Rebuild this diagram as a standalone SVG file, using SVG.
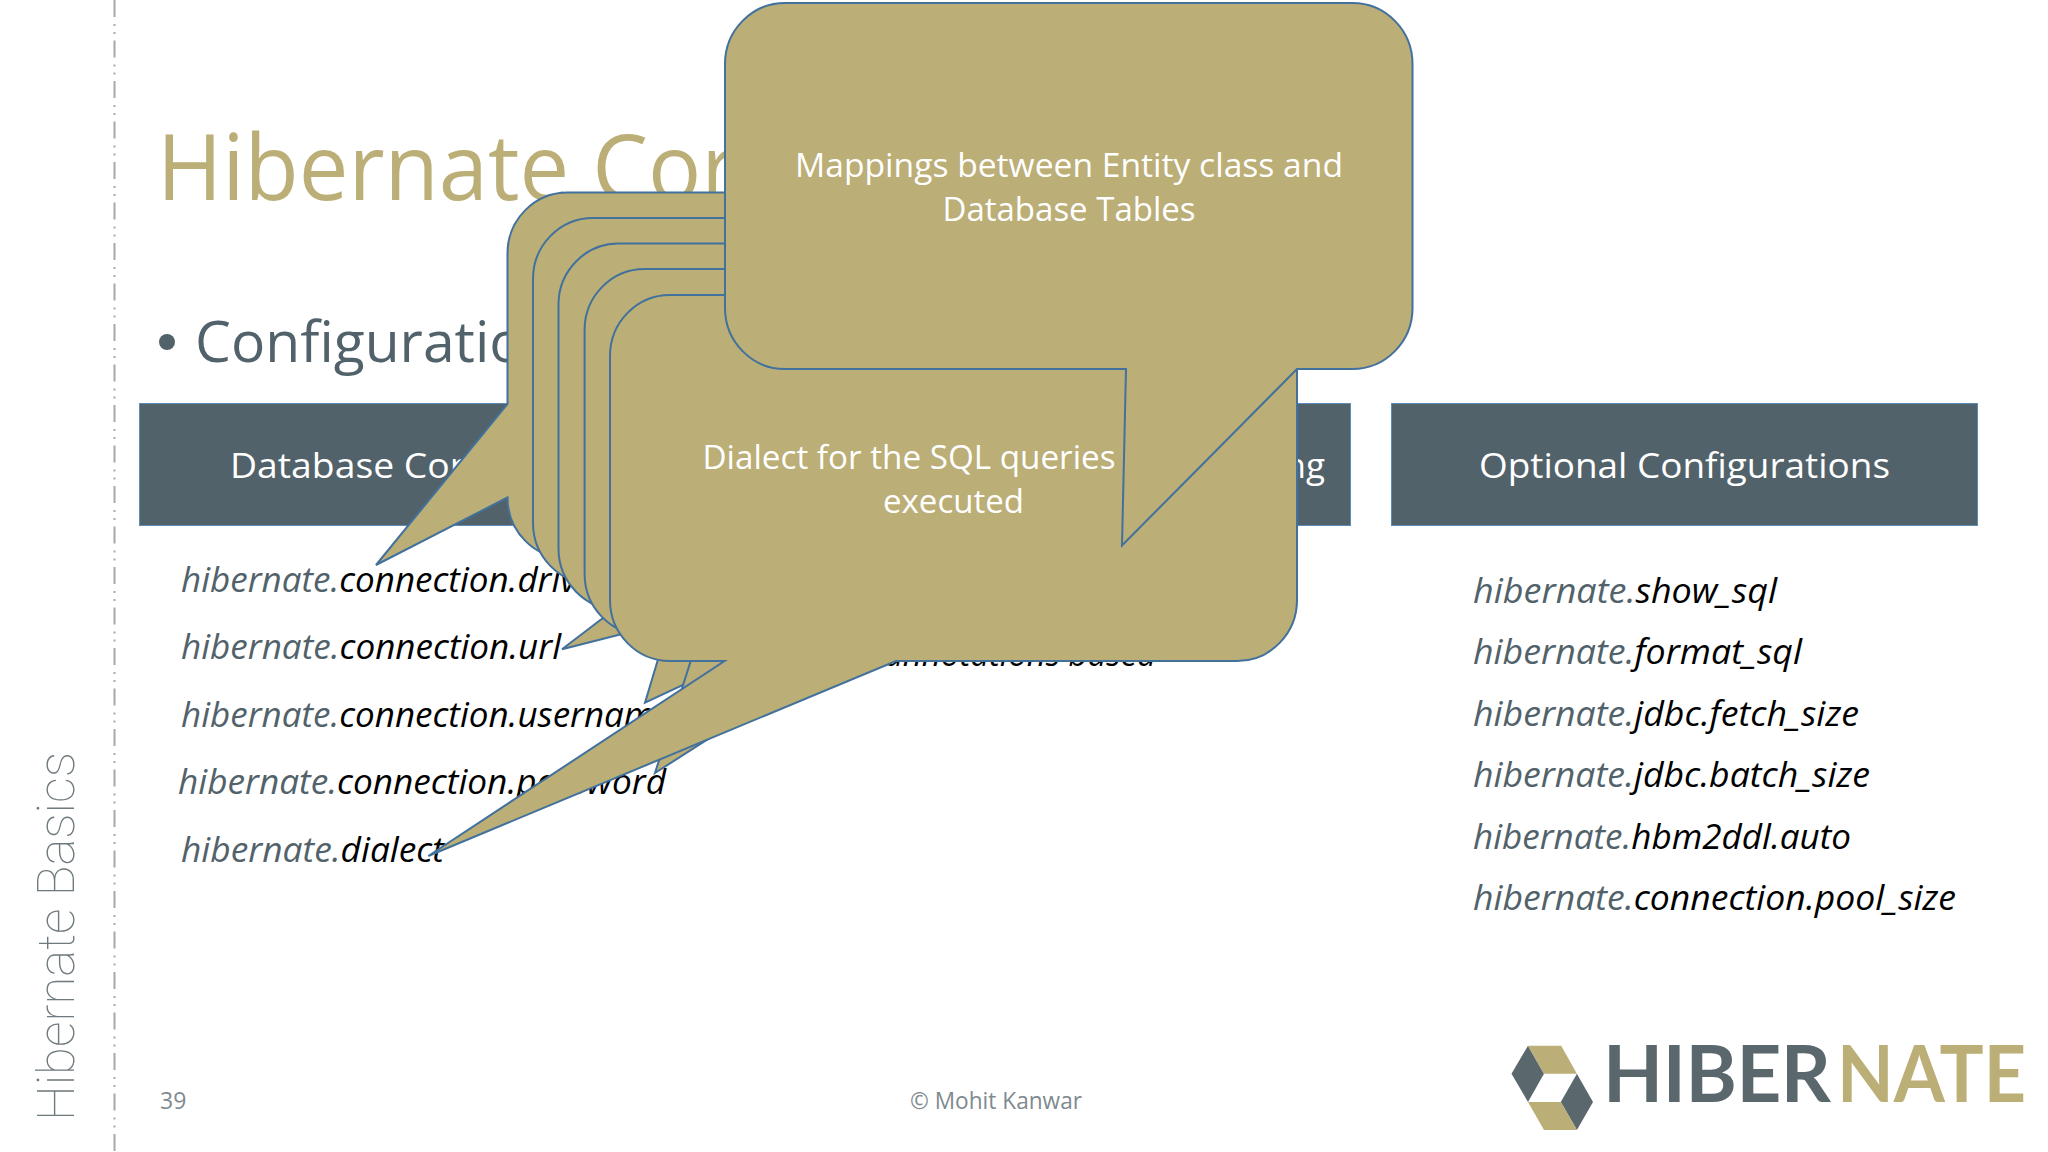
<svg xmlns="http://www.w3.org/2000/svg" width="2048" height="1152" viewBox="0 0 2048 1152">
<style>
text{font-family:"Open Sans","Noto Sans","Liberation Sans",sans-serif}
.hdr{fill:#52626A;stroke:#5B8DB8;stroke-width:1}
.hdrt{fill:#fff;font-size:35px}
.call{fill:#BBAE77;stroke:#41719C;stroke-width:2;stroke-linejoin:miter}
.callt{fill:#fff;font-size:33px;text-anchor:middle}
.it{font-size:35px;font-style:italic;fill:#000}
.it .g{fill:#52626A}
.ftr{fill:#7f8a8f;font-size:23px}
.gd{fill:#BBAE77}
.gy{fill:#5A686D}
.logot{font-size:78px;font-weight:700}
</style>
<rect width="2048" height="1152" fill="#fff"/>
<g id="sidebar">
<line x1="114.5" y1="0" x2="114.5" y2="1152" stroke="#a8a8a8" stroke-width="2" stroke-dasharray="17 7 2 6 2 6.5"/>
<text transform="translate(74 1121) rotate(-90)" font-size="52" font-weight="100" fill="#6f7a7f" textLength="369" lengthAdjust="spacingAndGlyphs" style="font-family:Roboto,'Liberation Sans',sans-serif">Hibernate Basics</text>
</g>
<g id="title">
<text transform="translate(157 200) scale(.962 1)" font-size="92" fill="#BBAE77">Hibernate Cor</text>
<circle cx="167" cy="342" r="8" fill="#52626A"/>
<text x="195" y="362" font-size="57" fill="#52626A">Configuratio</text>
</g>
<g id="header-database">
<rect class="hdr" x="139.5" y="403.5" width="587" height="122"/>
<text class="hdrt" x="230" y="477.5" textLength="235" lengthAdjust="spacingAndGlyphs">Database Cor</text>
</g>
<g id="header-mapping">
<rect class="hdr" x="765.5" y="403.5" width="585" height="122"/>
<text class="hdrt" x="1325" y="477.5" text-anchor="end">ng</text>
</g>
<g id="header-optional">
<rect class="hdr" x="1391.5" y="403.5" width="586" height="122"/>
<text class="hdrt" x="1479" y="477.5" textLength="411" lengthAdjust="spacingAndGlyphs">Optional Configurations</text>
</g>
<g id="list-database">
<text class="it" x="181" y="591.5"><tspan class="g">hibernate.</tspan>connection.driv</text>
<text class="it" x="181" y="659" textLength="380" lengthAdjust="spacingAndGlyphs"><tspan class="g">hibernate.</tspan>connection.url</text>
<text class="it" x="181" y="726.5"><tspan class="g">hibernate.</tspan>connection.usernam</text>
<text class="it" x="178" y="794" textLength="488" lengthAdjust="spacingAndGlyphs"><tspan class="g">hibernate.</tspan>connection.password</text>
<text class="it" x="181" y="861.5" textLength="263" lengthAdjust="spacingAndGlyphs"><tspan class="g">hibernate.</tspan>dialect</text>
</g>
<g id="list-mapping">
<text class="it" style="font-size:33px" x="1156" y="666" text-anchor="end">annotations based</text>
</g>
<g id="list-optional">
<text class="it" x="1473" y="602.5" textLength="304" lengthAdjust="spacingAndGlyphs"><tspan class="g">hibernate.</tspan>show_sql</text>
<text class="it" x="1473" y="664" textLength="329" lengthAdjust="spacingAndGlyphs"><tspan class="g">hibernate.</tspan>format_sql</text>
<text class="it" x="1473" y="725.5" textLength="386" lengthAdjust="spacingAndGlyphs"><tspan class="g">hibernate.</tspan>jdbc.fetch_size</text>
<text class="it" x="1473" y="787" textLength="397" lengthAdjust="spacingAndGlyphs"><tspan class="g">hibernate.</tspan>jdbc.batch_size</text>
<text class="it" x="1473" y="848.5" textLength="378" lengthAdjust="spacingAndGlyphs"><tspan class="g">hibernate.</tspan>hbm2ddl.auto</text>
<text class="it" x="1473" y="910" textLength="483" lengthAdjust="spacingAndGlyphs"><tspan class="g">hibernate.</tspan>connection.pool_size</text>
</g>
<g id="footer">
<text class="ftr" x="160" y="1108.5">39</text>
<text class="ftr" x="910" y="1108.5" textLength="172" lengthAdjust="spacingAndGlyphs">© Mohit Kanwar</text>
</g>
<g id="logo">
<polygon class="gy" points="1511.5,1073.7 1528,1045.7 1544,1073.7 1528,1102"/>
<polygon class="gd" points="1528,1045.7 1561.2,1045.7 1576.9,1073.7 1544,1073.7"/>
<polygon class="gy" points="1576.9,1073.7 1593,1102 1576.9,1130 1560.8,1102"/>
<polygon class="gd" points="1528,1102 1560.8,1102 1576.9,1130 1544,1130"/>
<text x="1603" y="1102" class="gy logot" textLength="228" lengthAdjust="spacing" style="font-family:Lato,'Liberation Sans',sans-serif">HIBER</text>
<text x="1837" y="1102" class="gd logot" textLength="189" lengthAdjust="spacingAndGlyphs" style="font-family:Lato,'Liberation Sans',sans-serif">NATE</text>
</g>
<g id="callouts">
<g id="callout-driver">
<path class="call" d="M567.5 192.5H1134.5A60 61 0 0 1 1194.5 253.5V497.5A60 61 0 0 1 1134.5 558.5H567.5A60 61 0 0 1 507.5 497.5L376 565L507.5 404V253.5A60 61 0 0 1 567.5 192.5Z"/>
</g>
<g id="callout-url">
<path class="call" d="M593 218H1160A60 61 0 0 1 1220 279V523A60 61 0 0 1 1160 584H819L562 649.3L647.5 584H593A60 61 0 0 1 533 523V279A60 61 0 0 1 593 218Z"/>
</g>
<g id="callout-username">
<path class="call" d="M618.5 243.6H1185.5A60 61 0 0 1 1245.5 304.6V548.6A60 61 0 0 1 1185.5 609.6H844.7L645 702.7L673 609.6H618.5A60 61 0 0 1 558.5 548.6V304.6A60 61 0 0 1 618.5 243.6Z"/>
</g>
<g id="callout-password">
<path class="call" d="M644.6 269H1211.6A60 61 0 0 1 1271.6 330V574A60 61 0 0 1 1211.6 635H870.6L655 773L699 635H644.6A60 61 0 0 1 584.6 574V330A60 61 0 0 1 644.6 269Z"/>
</g>
<g id="callout-dialect">
<path class="call" d="M670 295H1237A60 61 0 0 1 1297 356V600A60 61 0 0 1 1237 661H896L428.3 856L724.5 661H670A60 61 0 0 1 610 600V356A60 61 0 0 1 670 295Z"/>
<text class="callt" x="909" y="468.5" textLength="413" lengthAdjust="spacingAndGlyphs">Dialect for the SQL queries</text>
<text class="callt" x="953.5" y="513">executed</text>
</g>
<g id="callout-mappings">
<path class="call" d="M785 3H1352.5A60 61 0 0 1 1412.5 64V308A60 61 0 0 1 1352.5 369H1297L1122 545.5L1126 369H785A60 61 0 0 1 725 308V64A60 61 0 0 1 785 3Z"/>
<text class="callt" x="1069" y="176.5" textLength="548" lengthAdjust="spacingAndGlyphs">Mappings between Entity class and</text>
<text class="callt" x="1069" y="220.5">Database Tables</text>
</g>
</g>
</svg>
